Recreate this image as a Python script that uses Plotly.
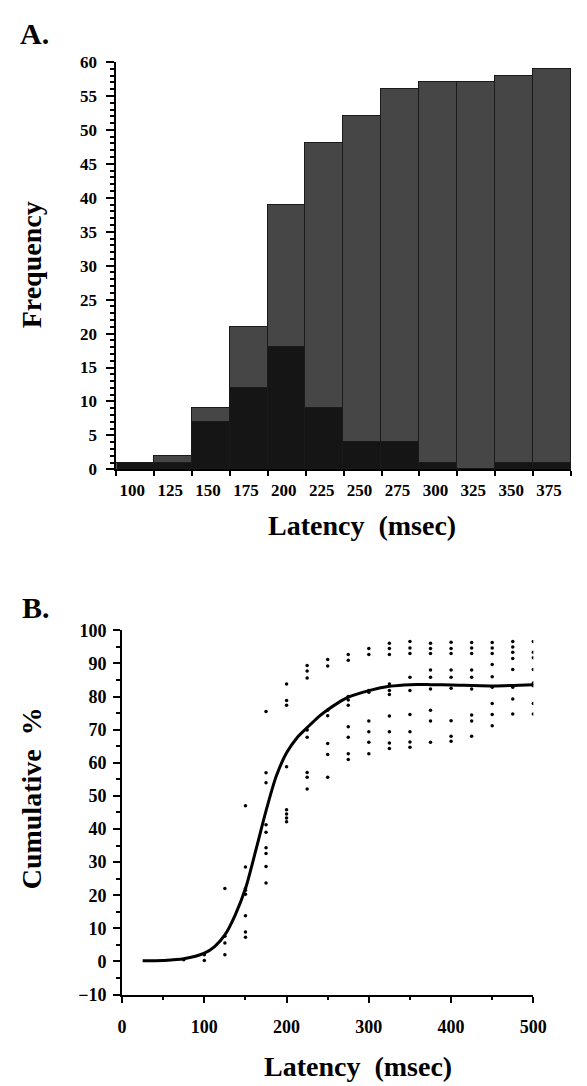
import plotly.graph_objects as go

W, H = 587, 1086

# ---------------- Panel A data ----------------
bin_starts = [100, 125, 150, 175, 200, 225, 250, 275, 300, 325, 350, 375]
bin_labels = ["100", "125", "150", "175", "200", "225", "250", "275", "300", "325", "350", "375"]
dark_counts = [1, 1, 7, 12, 18, 9, 4, 4, 1, 0, 1, 1]
gray_counts = [0, 1, 2, 9, 21, 39, 48, 52, 56, 57, 57, 58]
bin_width = 25

# ---------------- Panel B data ----------------
dot_latencies = [75, 100, 125, 150, 175, 200, 225, 250, 275, 300, 325, 350, 375, 400, 425, 450, 475, 500]
dot_values = [
    [0.5],
    [2.0, 0.3],
    [22.0, 7.6, 5.6, 2.0],
    [47.0, 28.5, 22.0, 21.5, 20.3, 13.8, 8.9, 7.3],
    [75.5, 57.0, 54.0, 41.3, 39.0, 34.3, 32.6, 28.7, 23.7],
    [83.8, 78.8, 77.4, 58.8, 45.8, 44.5, 43.3, 42.2],
    [89.4, 87.7, 85.6, 69.9, 67.7, 57.1, 55.6, 52.1],
    [91.2, 89.2, 75.9, 74.2, 65.8, 62.5, 55.6],
    [92.7, 91.0, 80.0, 79.0, 77.4, 70.9, 67.7, 62.7, 61.0],
    [94.5, 92.7, 81.8, 81.3, 72.6, 69.4, 66.2, 62.7],
    [96.1, 94.5, 92.7, 83.8, 81.8, 80.6, 74.1, 69.4, 66.0, 64.3],
    [96.6, 94.7, 93.0, 85.8, 81.8, 74.6, 69.4, 66.3, 64.7],
    [96.1, 94.5, 93.0, 88.0, 85.8, 82.3, 75.9, 72.6, 66.2],
    [96.4, 94.5, 93.0, 88.0, 85.8, 82.5, 72.7, 68.0, 66.5],
    [96.3, 94.7, 93.0, 88.0, 85.8, 82.3, 74.4, 72.6, 68.0],
    [96.3, 94.7, 93.0, 89.7, 86.0, 82.8, 77.9, 74.6, 71.2],
    [96.6, 95.0, 93.4, 91.5, 88.2, 82.8, 79.3, 74.7],
    [96.6, 93.4, 91.7, 88.2, 84.1, 83.3, 77.9, 74.7],
]
curve_x = [25, 50, 75, 100, 112.5, 125, 137.5, 150, 162.5, 175, 187.5, 200, 212.5, 225, 237.5, 250, 262.5, 275, 300, 325, 350, 375, 400, 450, 500]
curve_y = [0.2, 0.3, 0.8, 2.5, 4.5, 8.0, 14.0, 22.0, 33.5, 45.5, 56.0, 63.0, 67.5, 70.6, 73.6, 76.0, 78.1, 79.8, 81.8, 83.1, 83.6, 83.6, 83.5, 83.2, 83.6]

FONT = "Liberation Serif"
bin_centers = [s + bin_width / 2 for s in bin_starts]
bin_edges = bin_starts + [bin_starts[-1] + bin_width]

dot_x, dot_y = [], []
for lat, vals in zip(dot_latencies, dot_values):
    for v in vals:
        dot_x.append(lat)
        dot_y.append(v)

def px_x(p):
    return p / W

def px_y(p):
    return 1 - p / H

fig = go.Figure()

fig.add_trace(go.Bar(
    x=bin_centers, y=dark_counts, width=bin_width, xaxis="x", yaxis="y",
    marker=dict(color="#151515", line=dict(color="#1a1a1a", width=1.5)),
    showlegend=False,
))
fig.add_trace(go.Bar(
    x=bin_centers, y=gray_counts, width=bin_width, xaxis="x", yaxis="y",
    marker=dict(color="#464646", line=dict(color="#1a1a1a", width=1.5)),
    showlegend=False,
))

fig.add_trace(go.Scatter(
    x=curve_x, y=curve_y, mode="lines", xaxis="x2", yaxis="y2",
    line=dict(color="black", width=3, shape="spline", smoothing=0.8),
    showlegend=False,
))
fig.add_trace(go.Scatter(
    x=dot_x, y=dot_y, mode="markers", xaxis="x2", yaxis="y2",
    marker=dict(color="black", size=3.5),
    showlegend=False,
))

tickfont_a = dict(family=FONT, size=17, color="black", weight="bold")
tickfont_b = dict(family=FONT, size=18, color="black", weight="bold")

fig.update_layout(
    width=W, height=H,
    margin=dict(l=0, r=0, t=0, b=0),
    paper_bgcolor="white", plot_bgcolor="white",
    barmode="stack", bargap=0,
    xaxis=dict(
        domain=[px_x(115), px_x(585)], range=[100, 400],
        tickvals=bin_centers, ticktext=bin_labels, ticks="",
        tickfont=tickfont_a, ticklabelstandoff=4, ticklabelshift=-3,
        showline=True, linecolor="black", linewidth=2,
        showgrid=False, zeroline=False, anchor="y",
        minor=dict(tickvals=bin_edges, ticks="outside", ticklen=5, tickwidth=2, tickcolor="black", showgrid=False),
    ),
    yaxis=dict(
        domain=[px_y(468), px_y(53)], range=[0, 60],
        tickvals=list(range(0, 61, 5)), ticks="outside", ticklen=8, tickwidth=2, tickcolor="black",
        tickfont=tickfont_a, ticklabelstandoff=6,
        showline=True, linecolor="black", linewidth=2,
        showgrid=False, zeroline=False, anchor="x",
        minor=dict(dtick=1, ticks="outside", ticklen=4, tickwidth=1.5, tickcolor="black", showgrid=False),
    ),
    xaxis2=dict(
        domain=[px_x(121), px_x(546)], range=[0, 500],
        tickvals=[0, 100, 200, 300, 400, 500], ticks="outside", ticklen=6, tickwidth=2, tickcolor="black",
        tickfont=tickfont_b, ticklabelstandoff=9,
        showline=True, linecolor="black", linewidth=2,
        showgrid=False, zeroline=False, anchor="y2",
        minor=dict(dtick=50, ticks="outside", ticklen=3, tickwidth=2, tickcolor="black", showgrid=False),
    ),
    yaxis2=dict(
        domain=[px_y(1003), px_y(632)], range=[-10, 100],
        tickvals=list(range(-10, 101, 10)), ticks="outside", ticklen=7, tickwidth=2, tickcolor="black",
        tickfont=tickfont_b, ticklabelstandoff=3,
        showline=True, linecolor="black", linewidth=2,
        showgrid=False, zeroline=False, anchor="x2",
        minor=dict(dtick=5, ticks="outside", ticklen=4, tickwidth=1.5, tickcolor="black", showgrid=False),
    ),
)

title_font = dict(family=FONT, size=28, color="black", weight="bold")
annots = [
    dict(text="A.", x=px_x(30), y=px_y(24), font=dict(family=FONT, size=30, color="black", weight="bold")),
    dict(text="B.", x=px_x(32), y=px_y(609), font=dict(family=FONT, size=30, color="black", weight="bold")),
    dict(text="Frequency", x=px_x(27), y=px_y(260), textangle=-90, font=title_font),
    dict(text="Latency  (msec)", x=px_x(369), y=px_y(525), font=title_font),
    dict(text="Cumulative  %", x=px_x(27), y=px_y(803), textangle=-90, font=title_font),
    dict(text="Latency  (msec)", x=px_x(365), y=px_y(1076), font=title_font),
]
for a in annots:
    fig.add_annotation(xref="paper", yref="paper", showarrow=False, xanchor="center", yanchor="middle", **a)

fig.write_html("out.html")
